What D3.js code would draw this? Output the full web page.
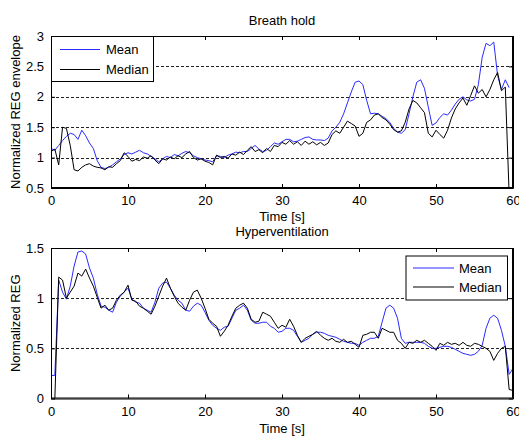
<!DOCTYPE html>
<html><head><meta charset="utf-8">
<script src="https://cdn.jsdelivr.net/npm/d3@7"></script>
<style>
body{margin:0;background:#fff}
text{font-family:"Liberation Sans",Arial,Helvetica,sans-serif;font-size:13px;fill:#000}
</style>
</head><body>
<svg id="chart" width="519" height="436"></svg>
<script>
// sample times (s), 0.5 s spacing
const times = d3.range(0, 60.001, 0.5);
const xTicks = [0, 10, 20, 30, 40, 50, 60];

// ---- Breath hold ----
const breathTicks = [0.5, 1, 1.5, 2, 2.5, 3];
const breathMean = [
  1.15,1.12,1.2,1.28,1.35,1.4,1.38,1.3,1.45,1.36,
  1.24,1.15,0.95,0.84,0.82,0.84,0.88,0.93,0.98,1.05,
  1.08,1.06,1.09,1.12,1.08,1.06,1.02,0.98,0.93,0.98,
  1.02,1.0,1.05,1.03,1.07,1.1,1.08,1.03,1.0,0.98,
  0.96,0.95,0.93,1.03,1.02,1.0,1.04,1.06,1.09,1.08,
  1.1,1.1,1.15,1.2,1.14,1.1,1.12,1.18,1.24,1.22,
  1.26,1.3,1.3,1.26,1.27,1.3,1.33,1.34,1.3,1.29,
  1.29,1.28,1.32,1.44,1.5,1.58,1.72,1.9,2.08,2.24,
  2.26,2.2,1.94,1.72,1.73,1.72,1.68,1.64,1.58,1.48,
  1.42,1.4,1.46,1.72,2.0,2.24,2.28,2.14,1.83,1.53,
  1.57,1.66,1.72,1.7,1.78,1.88,1.96,2.0,1.95,1.93,
  1.96,2.2,2.65,2.88,2.84,2.9,2.35,2.12,2.28,2.15,
  null
];
const breathMedian = [
  1.1,1.14,0.88,1.5,1.48,1.2,0.8,0.78,0.84,0.88,
  0.9,0.86,0.84,0.83,0.8,0.85,0.84,0.9,0.95,1.08,
  1.02,0.94,0.97,0.95,1.01,0.99,1.03,0.96,0.9,0.98,
  0.96,1.01,0.98,1.03,1.0,1.06,1.1,1.0,0.96,0.98,
  0.94,0.92,0.88,1.04,1.0,1.02,0.99,1.06,1.04,1.09,
  1.05,1.12,1.18,1.1,1.13,1.08,1.15,1.1,1.2,1.18,
  1.25,1.22,1.28,1.22,1.26,1.2,1.27,1.22,1.26,1.21,
  1.25,1.2,1.24,1.38,1.44,1.4,1.5,1.6,1.56,1.52,
  1.35,1.4,1.58,1.62,1.7,1.72,1.66,1.62,1.55,1.46,
  1.42,1.44,1.58,1.8,1.94,1.9,1.82,1.74,1.4,1.34,
  1.45,1.38,1.32,1.45,1.65,1.8,1.9,1.98,1.86,2.02,
  2.18,2.06,2.12,2.0,2.12,2.28,2.4,2.1,2.16,0.4,
  null
];

// ---- Hyperventilation ----
const hyperTicks = [0, 0.5, 1, 1.5];
const hyperMean = [
  0.23,0.23,1.18,1.06,0.99,1.12,1.32,1.46,1.47,1.44,
  1.3,1.2,1.04,0.92,0.91,0.88,0.86,0.96,1.02,1.06,
  1.1,0.99,0.96,0.95,0.9,0.88,0.86,0.96,1.1,1.15,
  1.16,1.1,1.03,0.98,0.95,0.88,0.87,0.92,0.95,0.93,
  0.86,0.78,0.73,0.7,0.68,0.71,0.72,0.8,0.88,0.9,
  0.93,0.88,0.78,0.75,0.75,0.76,0.76,0.72,0.7,0.66,
  0.67,0.7,0.7,0.68,0.62,0.56,0.58,0.6,0.64,0.66,
  0.66,0.65,0.63,0.62,0.61,0.59,0.57,0.56,0.55,0.55,
  0.53,0.56,0.58,0.6,0.6,0.62,0.76,0.9,0.93,0.9,
  0.8,0.6,0.55,0.56,0.56,0.56,0.56,0.55,0.52,0.5,
  0.5,0.51,0.52,0.52,0.51,0.49,0.47,0.45,0.44,0.43,
  0.44,0.47,0.53,0.7,0.8,0.83,0.8,0.68,0.52,0.24,
  0.3
];
const hyperMedian = [
  null,0.0,1.21,1.18,1.0,1.06,1.12,1.25,1.22,1.29,
  1.2,1.12,1.01,0.9,0.93,0.88,0.9,0.98,1.03,1.06,
  1.13,0.98,0.97,0.92,0.9,0.87,0.84,0.92,1.02,1.12,
  1.2,1.1,1.02,0.95,0.91,0.88,0.98,1.06,1.08,1.0,
  0.9,0.79,0.75,0.72,0.62,0.67,0.73,0.82,0.9,0.93,
  0.95,0.9,0.79,0.76,0.77,0.86,0.84,0.82,0.76,0.7,
  0.73,0.71,0.79,0.72,0.63,0.56,0.6,0.62,0.64,0.67,
  0.63,0.6,0.58,0.6,0.57,0.56,0.59,0.56,0.57,0.54,
  0.51,0.63,0.64,0.66,0.66,0.6,0.7,0.68,0.66,0.66,
  0.58,0.55,0.5,0.56,0.55,0.58,0.56,0.58,0.55,0.52,
  0.48,0.55,0.53,0.56,0.54,0.55,0.53,0.56,0.53,0.52,
  0.55,0.54,0.52,0.5,0.47,0.38,0.45,0.5,0.52,0.09,
  0.08
];

const seriesNames = ["Mean", "Median"];
const seriesColors = ["#2a2aff", "#000000"];

const svg = d3.select("#chart");
const L = 51, R = 513;

const panels = [
  {id:"p1", title:"Breath hold", ylabel:"Normalized REG envelope", top:36, bottom:188,
   domain:[0.5,3], ticks:breathTicks, data:[breathMean, breathMedian],
   titleY:24.5, xlabY:221, legend:{x0:51, y0:36, x1:153, y1:81, lx0:60, lx1:100, tx:106, y:[49,69]}},
  {id:"p2", title:"Hyperventilation", ylabel:"Normalized REG", top:248, bottom:398.5,
   domain:[0,1.5], ticks:hyperTicks, data:[hyperMean, hyperMedian],
   titleY:236, xlabY:432.5, legend:{x0:405.5, y0:255.5, x1:507, y1:299.5, lx0:413, lx1:454, tx:459, y:[267.5,286.5]}}
];

panels.forEach(p => {
  const x = d3.scaleLinear().domain([0,60]).range([L,R]);
  const y = d3.scaleLinear().domain(p.domain).range([p.bottom,p.top]);
  const g = svg.append("g");

  g.append("clipPath").attr("id","clip-"+p.id).append("rect")
    .attr("x",L).attr("y",p.top).attr("width",R-L).attr("height",p.bottom-p.top);

  // dashed grid at interior y ticks
  g.selectAll("line.grid").data(p.ticks.filter(t => t>p.domain[0] && t<p.domain[1]))
    .enter().append("line")
    .attr("x1",L).attr("x2",R)
    .attr("y1",d=>Math.round(y(d))+0.5).attr("y2",d=>Math.round(y(d))+0.5)
    .attr("stroke","#222").attr("stroke-width",1).attr("stroke-dasharray","3,2");

  // lines
  const line = d3.line().defined(d => d[1] !== null)
    .x(d => x(d[0])).y(d => y(d[1]));
  p.data.forEach((arr,i) => {
    g.append("path")
      .datum(times.map((t,k)=>[t, arr[k]]))
      .attr("d", line)
      .attr("fill","none")
      .attr("stroke", seriesColors[i])
      .attr("stroke-width", 1)
      .attr("clip-path","url(#clip-"+p.id+")");
  });

  // axes
  const fmt = d3.format("~g");
  const ax = g.append("g").attr("transform",`translate(0,${p.bottom})`)
    .call(d3.axisBottom(x).tickValues(xTicks).tickFormat(fmt).tickSizeInner(-4).tickSizeOuter(0).tickPadding(8));
  const axTop = g.append("g").attr("transform",`translate(0,${p.top})`)
    .call(d3.axisTop(x).tickValues(xTicks).tickFormat("").tickSizeInner(-4).tickSizeOuter(0));
  const ay = g.append("g").attr("transform",`translate(${L},0)`)
    .call(d3.axisLeft(y).tickValues(p.ticks).tickFormat(fmt).tickSizeInner(-4).tickSizeOuter(0).tickPadding(8));
  const ayR = g.append("g").attr("transform",`translate(${R},0)`)
    .call(d3.axisRight(y).tickValues(p.ticks).tickFormat("").tickSizeInner(-4).tickSizeOuter(0));
  [ax,axTop,ay,ayR].forEach(a => {
    a.select(".domain").attr("stroke","#000");
    a.selectAll(".tick line").attr("stroke","#000");
    a.selectAll("text").attr("font-size",13).attr("font-family",'"Liberation Sans",Arial,sans-serif').attr("fill","#000");
  });
  ay.selectAll("text").attr("dx", 1);

  // frame
  g.append("rect").attr("x",L+0.5).attr("y",p.top+0.5)
    .attr("width",R-L-1).attr("height",p.bottom-p.top-1)
    .attr("fill","none").attr("stroke","#000").attr("stroke-width",1);

  // title and labels
  g.append("text").attr("x",(L+R)/2).attr("y",p.titleY).attr("text-anchor","middle").text(p.title);
  g.append("text").attr("x",(L+R)/2).attr("y",p.xlabY).attr("text-anchor","middle").text("Time [s]");
  g.append("text").attr("transform",`translate(19.5,${(p.top+p.bottom)/2}) rotate(-90)`)
    .attr("text-anchor","middle").text(p.ylabel);

  // legend
  const lg = p.legend;
  g.append("rect").attr("x",lg.x0+0.5).attr("y",lg.y0+0.5)
    .attr("width",lg.x1-lg.x0).attr("height",lg.y1-lg.y0)
    .attr("fill","#fff").attr("stroke","#000").attr("stroke-width",1);
  seriesNames.forEach((name,i) => {
    g.append("line").attr("x1",lg.lx0).attr("x2",lg.lx1)
      .attr("y1",lg.y[i]+0.5).attr("y2",lg.y[i]+0.5)
      .attr("stroke",seriesColors[i]).attr("stroke-width",1);
    g.append("text").attr("x",lg.tx).attr("y",lg.y[i]+5).text(name);
  });
});
</script>
</body></html>
